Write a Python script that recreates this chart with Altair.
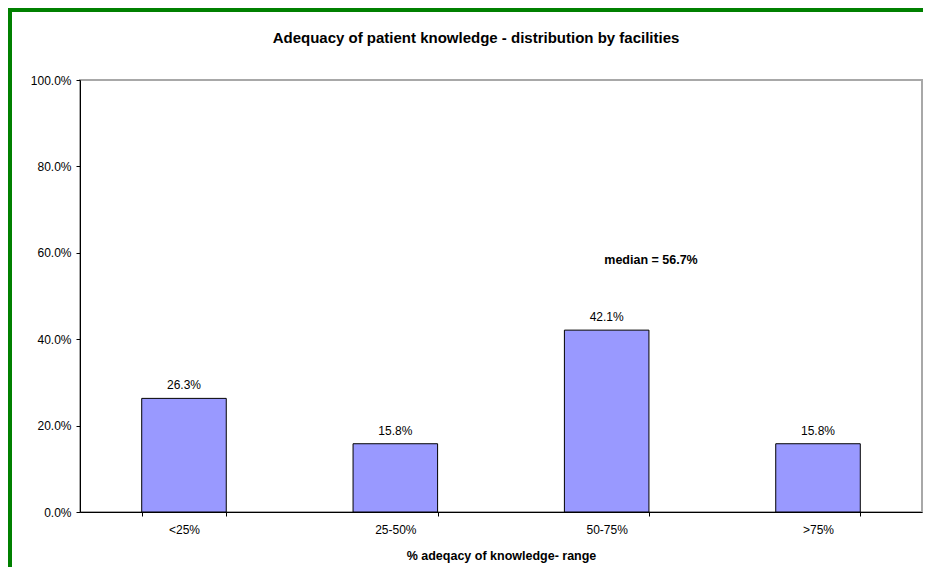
import altair as alt
import pandas as pd

categories = ["<25%", "25-50%", "50-75%", ">75%"]
shares = [0.263, 0.158, 0.421, 0.158]
y_ticks = [0.0, 0.2, 0.4, 0.6, 0.8, 1.0]
median_text = "median = 56.7%"
title_text = "Adequacy of patient knowledge - distribution by facilities"
x_title = "% adeqacy of knowledge- range"

df = pd.DataFrame({"range": categories, "share": shares})

FONT = "Arial, Liberation Sans, sans-serif"
W, H = 842, 432

x_enc = alt.X(
    "range:N",
    sort=categories,
    scale=alt.Scale(paddingInner=0.6, paddingOuter=0.292),
    axis=alt.Axis(
        title=x_title,
        labelAngle=0,
        tickBand="extent",
        labelFontSize=12,
        labelPadding=8,
        tickSize=4,
        titleFontSize=12.5,
        titleFontWeight="bold",
        titlePadding=14,
    ),
)
y_enc = alt.Y(
    "share:Q",
    scale=alt.Scale(domain=[0, 1], nice=False),
    axis=alt.Axis(
        title=None,
        values=y_ticks,
        format=".1%",
        labelFontSize=12,
        labelPadding=5,
        tickSize=4,
        grid=False,
    ),
)

base = alt.Chart(df)

bars = base.mark_bar(color="#9999FF", stroke="#000000", strokeWidth=1).encode(
    x=x_enc, y=y_enc
)

labels = base.mark_text(baseline="bottom", dy=-6, fontSize=12, font=FONT, color="#000000").encode(
    x=alt.X("range:N", sort=categories),
    y=alt.Y("share:Q"),
    text=alt.Text("share:Q", format=".1%"),
)

median = alt.Chart(pd.DataFrame({"t": [median_text]})).mark_text(
    fontSize=12.5, fontWeight="bold", font=FONT, color="#000000"
).encode(x=alt.value(571), y=alt.value(180), text="t:N")

title = alt.Chart(pd.DataFrame({"t": [title_text]})).mark_text(
    fontSize=15, fontWeight="bold", font=FONT, color="#000000"
).encode(x=alt.value(396), y=alt.value(-42), text="t:N")

green_left = alt.Chart(pd.DataFrame({"a": [0]})).mark_rule(color="#008000", strokeWidth=4).encode(
    x=alt.value(-70), y=alt.value(-72), y2=alt.value(H + 60)
)
green_top = alt.Chart(pd.DataFrame({"a": [0]})).mark_rule(color="#008000", strokeWidth=4).encode(
    y=alt.value(-70), x=alt.value(-72), x2=alt.value(W + 2)
)

chart = (
    alt.layer(bars, labels, median, title, green_left, green_top)
    .properties(
        width=W,
        height=H,
        autosize=alt.AutoSizeParams(type="none"),
        padding={"left": 72, "top": 72, "right": 1, "bottom": 55},
    )
    .configure(font=FONT, background="white")
    .configure_view(stroke="#a8a8a8", strokeWidth=2)
    .configure_axis(
        domainColor="#000000",
        tickColor="#000000",
        labelColor="#000000",
        titleColor="#000000",
        labelFont=FONT,
        titleFont=FONT,
    )
)

chart.save("out.html", embed_options={"renderer": "svg", "actions": False})
